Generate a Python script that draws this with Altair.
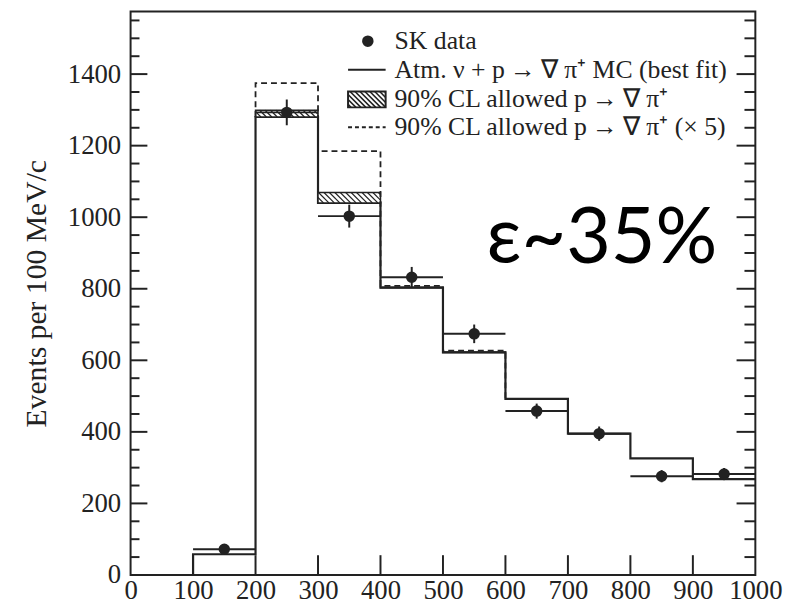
import altair as alt
import pandas as pd

# ---------------- data ----------------
bin_lo = [100, 200, 300, 400, 500, 600, 700, 800, 900]
bin_hi = [200, 300, 400, 500, 600, 700, 800, 900, 1000]
mc_best = [58, 1280, 1040, 803, 622, 492, 395, 326, 268]      # Atm. nu MC (best fit)
sig90 = [0, 19, 29, 1, 1, 0, 0, 0, 0]                          # 90% CL allowed p -> nubar pi+
data_x = [150, 250, 350, 450, 550, 650, 750, 850, 950]
data_y = [72, 1293, 1003, 832, 674, 458, 395, 276, 282]        # SK data
data_err = [9, 36, 32, 29, 26, 21, 20, 17, 17]
x_ticks = [0, 100, 200, 300, 400, 500, 600, 700, 800, 900, 1000]
y_ticks = [0, 200, 400, 600, 800, 1000, 1200, 1400]
y_minor = [v for v in range(50, 1575, 50) if v % 200 != 0]
x_inner = [100, 200, 300, 400, 500, 600, 700, 800, 900]

W, H = 632, 570
XMAX, YMAX = 1000, 1575
INK = "#222222"
SERIF = "Liberation Serif"

xs = alt.Scale(domain=[0, XMAX], nice=False, zero=False)
ys = alt.Scale(domain=[0, YMAX], nice=False, zero=False)

# ---------------- derived tables ----------------
mc_pts = [(bin_lo[0], 0)]
for lo, hi, m in zip(bin_lo, bin_hi, mc_best):
    mc_pts += [(lo, m), (hi, m)]
mc_df = pd.DataFrame([dict(o=i, x=x, y=y) for i, (x, y) in enumerate(mc_pts)])

sig_idx = [i for i, s in enumerate(sig90) if s > 0]
d_pts = [(bin_lo[sig_idx[0]], mc_best[sig_idx[0]])]
for i in sig_idx:
    d = mc_best[i] + 5 * sig90[i]
    d_pts += [(bin_lo[i], d), (bin_hi[i], d)]
last = sig_idx[-1]
d_pts.append((bin_hi[last], mc_best[last + 1]))
dash_df = pd.DataFrame([dict(o=i, x=x, y=y) for i, (x, y) in enumerate(d_pts)])

band_df = pd.DataFrame([dict(lo=lo, hi=hi, y=m, y2=m + s)
                        for lo, hi, m, s in zip(bin_lo, bin_hi, mc_best, sig90) if s > 0])

kx, ky = W / XMAX, H / YMAX
hatch = []
for lo, hi, m, s in zip(bin_lo, bin_hi, mc_best, sig90):
    if s < 8:
        continue
    hpx = s * ky
    lo_px, hi_px = lo * kx, hi * kx
    a = lo_px - hpx
    while a < hi_px:
        t0 = max(0.0, (lo_px - a) / hpx)
        t1 = min(1.0, (hi_px - a) / hpx)
        if t1 > t0:
            hatch.append(dict(x=(a + t0 * hpx) / kx, x2=(a + t1 * hpx) / kx,
                              y=m + s - t0 * s, y2=m + s - t1 * s))
        a += 5.5
hatch_df = pd.DataFrame(hatch)

pts_df = pd.DataFrame(dict(x=data_x, y=data_y, lo=bin_lo, hi=bin_hi,
                           ylo=[v - e for v, e in zip(data_y, data_err)],
                           yhi=[v + e for v, e in zip(data_y, data_err)]))

# ---------------- layers ----------------
base_x = alt.X("x:Q", scale=xs,
               axis=alt.Axis(values=x_ticks, format="d", ticks=False, domain=False, grid=False,
                             labelFont=SERIF, labelFontSize=27, labelColor=INK,
                             labelPadding=3, labelFlush=False, title=None))
base_y = alt.Y("y:Q", scale=ys,
               axis=alt.Axis(values=y_ticks, format="d", ticks=False, domain=False, grid=False,
                             labelFont=SERIF, labelFontSize=27, labelColor=INK,
                             labelPadding=10, title="Events per 100 MeV/c",
                             titleFont=SERIF, titleFontSize=30, titleFontWeight="normal",
                             titleColor=INK, titlePadding=16))

band = alt.Chart(band_df).mark_rect(fill="white", stroke=INK, strokeWidth=1.5).encode(
    x=alt.X("lo:Q", scale=xs), x2="hi:Q", y=alt.Y("y:Q", scale=ys), y2="y2:Q")

hatch_l = alt.Chart(hatch_df).mark_rule(color=INK, strokeWidth=1.2).encode(
    x=alt.X("x:Q", scale=xs), x2="x2:Q", y=alt.Y("y:Q", scale=ys), y2="y2:Q")

dash_l = alt.Chart(dash_df).mark_line(color=INK, strokeWidth=1.8, strokeDash=[6, 4]).encode(
    x=alt.X("x:Q", scale=xs), y=alt.Y("y:Q", scale=ys), order="o:Q")

mc_l = alt.Chart(mc_df).mark_line(color=INK, strokeWidth=2.2).encode(
    x=base_x, y=base_y, order="o:Q")

hbar = alt.Chart(pts_df).mark_rule(color=INK, strokeWidth=2).encode(
    x=alt.X("lo:Q", scale=xs), x2="hi:Q", y=alt.Y("y:Q", scale=ys))
vbar = alt.Chart(pts_df).mark_rule(color=INK, strokeWidth=2).encode(
    x=alt.X("x:Q", scale=xs), y=alt.Y("ylo:Q", scale=ys), y2="yhi:Q")
dots = alt.Chart(pts_df).mark_circle(color=INK, opacity=1, size=135).encode(
    x=alt.X("x:Q", scale=xs), y=alt.Y("y:Q", scale=ys))


def yt(vals, length, right=False):
    df = pd.DataFrame(dict(v=vals))
    if right:
        xx = dict(x=alt.value(W - length), x2=alt.value(W))
    else:
        xx = dict(x=alt.value(0), x2=alt.value(length))
    return alt.Chart(df).mark_rule(color=INK, strokeWidth=2).encode(
        y=alt.Y("v:Q", scale=ys), **xx)


ticks = [yt(y_ticks, 17), yt(y_minor, 9), yt(y_ticks, 19, True), yt(y_minor, 11, True),
         alt.Chart(pd.DataFrame(dict(v=x_inner))).mark_rule(color=INK, strokeWidth=2).encode(
             x=alt.X("v:Q", scale=xs), y=alt.value(H - 20), y2=alt.value(H))]

# ---------------- legend ----------------
one = pd.DataFrame(dict(a=[0]))
LX0, LX1, LT = 220, 258, 267
rows = [30, 59, 89, 117]
legend_labels = ["SK data",
                 "Atm. ν + p\u2009→\u2009∇ π⁺ MC (best fit)",
                 "90% CL allowed p\u2009→\u2009∇ π⁺",
                 "90% CL allowed p\u2009→\u2009∇ π⁺ (× 5)"]
leg = []
for yy, lab in zip(rows, legend_labels):
    leg.append(alt.Chart(one).mark_text(align="left", baseline="middle", font=SERIF,
                                        fontSize=26, color=INK, text=lab).encode(
        x=alt.value(LT), y=alt.value(yy)))
leg.append(alt.Chart(one).mark_circle(color=INK, opacity=1, size=135).encode(
    x=alt.value(240), y=alt.value(rows[0])))
leg.append(alt.Chart(one).mark_rule(color=INK, strokeWidth=2).encode(
    x=alt.value(LX0), x2=alt.value(LX1), y=alt.value(rows[1])))
leg.append(alt.Chart(one).mark_rule(color=INK, strokeWidth=2, strokeDash=[4, 3]).encode(
    x=alt.value(LX0), x2=alt.value(LX1), y=alt.value(rows[3])))
bt, bb = rows[2] - 8, rows[2] + 8
leg.append(alt.Chart(one).mark_rect(fill="white", stroke=INK, strokeWidth=2).encode(
    x=alt.value(LX0), x2=alt.value(LX1), y=alt.value(bt), y2=alt.value(bb)))
hh = bb - bt
a = LX0 - hh + 3
while a < LX1:
    x0 = max(a, LX0)
    x1 = min(a + hh, LX1)
    if x1 > x0:
        leg.append(alt.Chart(one).mark_rule(color=INK, strokeWidth=1.6).encode(
            x=alt.value(x0), x2=alt.value(x1),
            y=alt.value(bt + (x0 - a)), y2=alt.value(bt + (x1 - a))))
    a += 5

eff = alt.Chart(one).mark_text(align="left", baseline="alphabetic", font="Lato",
                               fontSize=78, color="black", text="ε~35%").encode(
    x=alt.value(360), y=alt.value(254))

chart = alt.layer(mc_l, band, hatch_l, dash_l, *ticks, hbar, vbar, dots, *leg, eff).properties(
    width=W, height=H,
    autosize=alt.AutoSizeParams(type="none"),
    padding={"left": 124, "top": 0, "right": 30, "bottom": 40},
).configure_view(stroke=INK, strokeWidth=2)

chart.save("out.html", embed_options={"renderer": "svg", "actions": False})
